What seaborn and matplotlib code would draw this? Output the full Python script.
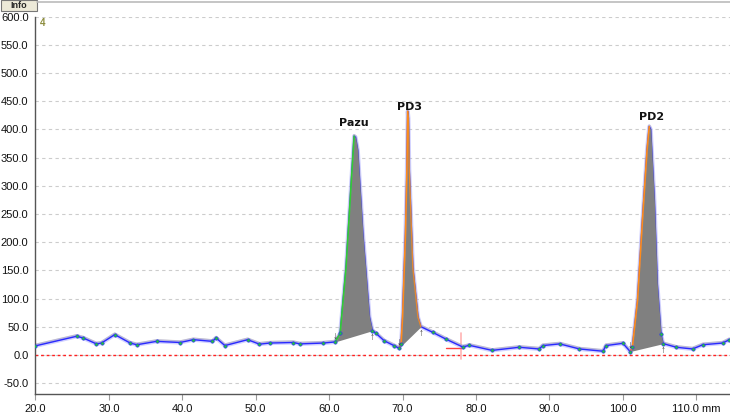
import numpy as np
import pandas as pd
import matplotlib
matplotlib.use("Agg")
import matplotlib.pyplot as plt
import seaborn as sns
from matplotlib.lines import Line2D
from matplotlib.patches import Rectangle

# scan trace (position in mm, signal)
pos = [20.0, 25.6, 26.5, 28.3, 29.0, 30.8, 32.9, 33.8, 36.5, 39.7, 41.5, 44.1, 44.6,
       45.8, 48.9, 50.5, 51.9, 55.1, 56.0, 59.2, 60.8,
       61.5, 62.3, 63.0, 63.4, 63.6, 63.9, 64.6, 65.5, 65.9,
       66.4, 67.5, 68.9, 69.5,
       69.8, 70.0, 70.4, 70.6, 70.7, 70.8, 70.9, 71.4, 72.1, 72.5,
       74.1, 75.9, 78.2, 79.1, 82.2, 85.9, 88.6, 89.1, 91.4, 94.1, 97.3, 97.7,
       100.0, 101.0,
       101.3, 102.0, 102.7, 103.3, 103.6, 103.8, 104.3, 104.7, 105.2, 105.5,
       107.3, 109.5, 110.9, 113.6, 114.5]
signal = [16, 33, 30, 19.5, 21, 36, 21, 18, 24, 22, 27, 24, 30,
          16.5, 27, 19, 21, 22, 19.5, 21, 23,
          38, 155, 304, 388, 386, 363, 215, 67, 43,
          38, 25, 16, 12,
          20, 67, 215, 333, 432, 420, 333, 155, 67, 50,
          40, 28, 14, 17, 8, 13.5, 10.5, 16.5, 19.5, 10.5, 6.5, 16.5,
          20.5, 6,
          13.5, 96, 244, 363, 405, 400, 274, 126, 37, 20,
          13.5, 10.5, 18, 21, 27]

peak_names = ["Pazu", "PD3", "PD2"]
peak_start = [60.8, 69.5, 101.0]
peak_end = [65.9, 72.5, 105.5]
label_x = [63.3, 70.9, 103.9]
label_y = [403, 430, 413]
edge_colors = ["#33cc33", "#ff8c1a", "#ff8c1a"]

df = pd.DataFrame({"pos": pos, "signal": signal})

sns.set_style("white")
plt.rcParams["font.family"] = ["Liberation Sans", "DejaVu Sans"]

fig = plt.figure(figsize=(7.3, 4.16), dpi=100)
ax = fig.add_axes([0.0486, 0.052, 0.9514, 0.908])

# faint raw trace and halo under the main line
ax.plot(df["pos"], df["signal"] + 2, color="#b5b095", lw=1.6, alpha=0.6, zorder=2)
ax.plot(df["pos"], df["signal"], color="#9999ff", lw=3, alpha=0.45, zorder=2)
sns.lineplot(data=df, x="pos", y="signal", color="#2a2aff", lw=1.0, ax=ax,
             zorder=3, estimator=None, sort=False)

# peak areas above a straight baseline
for name, s, e, lx, ly, ec in zip(peak_names, peak_start, peak_end, label_x, label_y, edge_colors):
    seg = df[(df["pos"] >= s) & (df["pos"] <= e)]
    y0 = np.interp(s, df["pos"], df["signal"])
    y1 = np.interp(e, df["pos"], df["signal"])
    base = y0 + (seg["pos"] - s) / (e - s) * (y1 - y0)
    ax.fill_between(seg["pos"], seg["signal"], base, color="#808080", lw=0, zorder=4)
    top = seg["signal"].idxmax()
    left = df.loc[seg.index.min():top]
    ax.plot(left["pos"], left["signal"], color=ec, lw=1.2, zorder=5)
    if name == "PD3":
        right = df.loc[top:seg.index.max()]
        ax.plot(right["pos"], right["signal"], color=ec, lw=1.0, zorder=5, alpha=0.8)
    ax.text(lx, ly, name, ha="center", va="bottom", fontsize=8, fontweight="bold",
            family=["DejaVu Sans"], color="#111111", zorder=6)
    ax.text(s, y0 + 2, "\u2193", ha="center", va="bottom", fontsize=7, color="#333333", zorder=6)
    ax.text(e, y1 - 2, "\u2191", ha="center", va="top", fontsize=7, color="#333333", zorder=6)

# baseline sample dots
flat = df[df["signal"] < 45]
ax.scatter(flat["pos"], flat["signal"], s=6, color="#22bb44", edgecolor="#2a2aff",
           linewidth=0.4, zorder=5)

ax.axhline(0, color="#ff2020", ls=(0, (2, 2)), lw=1.0, zorder=1)
ax.plot([78.0, 78.0], [-8, 38], color="#ffb3b3", lw=1.2, zorder=1)
ax.plot([75.9, 78.2], [13, 13], color="#ff4040", lw=1.0, zorder=1)
ax.text(20.6, 588, "4", color="#8c8c3c", fontsize=7, fontweight="bold", va="center")

ax.set_xlim(20, 114.6)
ax.set_ylim(-70, 600)
ax.set_xticks(np.arange(20, 111, 10))
ax.set_xticklabels([f"{v:.1f}" for v in np.arange(20, 101, 10)] + ["110.0 mm"])
ax.set_yticks(np.arange(-50, 601, 50))
ax.set_yticklabels([f"{v:.1f}" for v in np.arange(-50, 601, 50)])
ax.yaxis.grid(True, color="#cccccc", ls=(0, (3, 3)), lw=0.8)
ax.xaxis.grid(False)
ax.tick_params(axis="both", labelsize=8, colors="#111111")
ax.tick_params(axis="y", length=0, pad=5)
ax.tick_params(axis="x", length=4, color="#999999", pad=3, direction="out", bottom=True)
ax.set_xlabel("")
ax.set_ylabel("")
for side in ["top", "right"]:
    ax.spines[side].set_visible(False)
for side in ["left", "bottom"]:
    ax.spines[side].set_color("#555555")
    ax.spines[side].set_linewidth(1.0)

# window chrome: top border and Info button
fig.add_artist(Line2D([0.05, 1.0], [0.996, 0.996], color="#bbbbbb", lw=1.2))
fig.add_artist(Rectangle((0.001, 0.974), 36 / 730, 11 / 416, facecolor="#ece9d8",
                         edgecolor="#777777", lw=0.8))
fig.text(0.001 + 18 / 730, 0.974 + 5.5 / 416, "Info", fontsize=6.5, fontweight="bold",
         va="center", ha="center")

fig.savefig("out.png", dpi=100)
